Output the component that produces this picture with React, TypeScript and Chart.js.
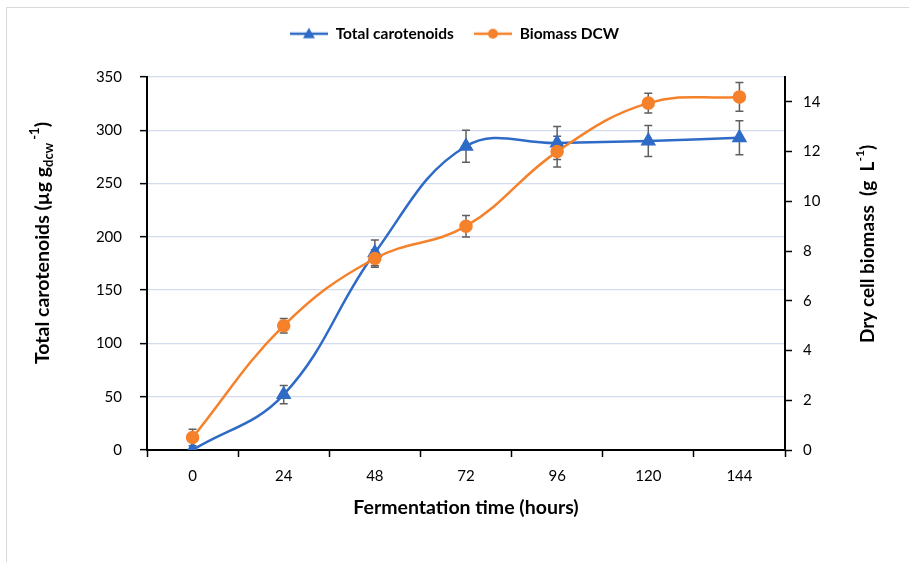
import React, { useEffect, useRef } from "react";
import { Chart, registerables } from "chart.js";

Chart.register(...registerables);

const categories = ["0", "24", "48", "72", "96", "120", "144"];
const carotenoids = [0, 52, 185, 285, 288, 290, 293];
const carotenoidErr = [0, 8.5, 12, 15, 15.5, 14.5, 16];
const biomass = [0.5, 5.0, 7.7, 9.0, 12.0, 13.95, 14.2];
const biomassErr = [0.33, 0.29, 0.35, 0.43, 0.62, 0.4, 0.58];

const leftMin = 0;
const leftMax = 350;
const leftStep = 50;
const rightMin = 0;
const rightMax = 15;
const rightStep = 2;
const rightLastLabel = 14;

const BLUE = "#2e6bc6";
const ORANGE = "#f5812b";
const FONT = "Lato";

type Seg = { t: string; k?: "sub" | "sup" };

function drawRich(ctx: CanvasRenderingContext2D, segs: Seg[], cx: number, cy: number, rot: number, size: number) {
  ctx.save();
  ctx.translate(cx, cy);
  ctx.rotate(rot);
  const small = Math.round(size * 0.65);
  const fontFor = (s: Seg) => `bold ${s.k ? small : size}px ${FONT}`;
  let total = 0;
  for (const s of segs) {
    ctx.font = fontFor(s);
    total += ctx.measureText(s.t).width;
  }
  let x = -total / 2;
  ctx.fillStyle = "#000";
  ctx.textBaseline = "middle";
  ctx.textAlign = "left";
  for (const s of segs) {
    ctx.font = fontFor(s);
    const dy = s.k === "sub" ? size * 0.3 : s.k === "sup" ? -size * 0.42 : 0;
    ctx.fillText(s.t, x, dy);
    x += ctx.measureText(s.t).width;
  }
  ctx.restore();
}

const errorBars = {
  id: "errorBars",
  beforeDatasetsDraw(chart: any) {
    const ctx = chart.ctx;
    const xs = chart.scales.x;
    chart.data.datasets.forEach((ds: any) => {
      const ys = chart.scales[ds.yAxisID];
      const errs: number[] = ds.errors || [];
      ctx.save();
      ctx.strokeStyle = "#5f5f5f";
      ctx.lineWidth = 1.5;
      ds.data.forEach((v: number, i: number) => {
        const e = errs[i];
        if (!e) return;
        const x = xs.getPixelForValue(i);
        const y1 = ys.getPixelForValue(v + e);
        const y2 = ys.getPixelForValue(v - e);
        ctx.beginPath();
        ctx.moveTo(x, y1);
        ctx.lineTo(x, y2);
        ctx.moveTo(x - 4, y1);
        ctx.lineTo(x + 4, y1);
        ctx.moveTo(x - 4, y2);
        ctx.lineTo(x + 4, y2);
        ctx.stroke();
      });
      ctx.restore();
    });
  },
};

const TOP_PAD = 6;
const PLOT_TOP = 77;

const decor = {
  id: "decor",
  beforeLayout(chart: any) {
    const lg = chart.legend;
    if (lg && !lg.__patched) {
      const orig = lg.fit.bind(lg);
      lg.fit = function () {
        orig();
        this.height = PLOT_TOP - TOP_PAD;
      };
      lg.__patched = true;
    }
  },
  beforeDraw(chart: any) {
    const ctx = chart.ctx;
    ctx.save();
    ctx.fillStyle = "#fff";
    ctx.fillRect(0, 0, chart.width, chart.height);
    ctx.strokeStyle = "#d9d9d9";
    ctx.lineWidth = 1;
    ctx.beginPath();
    ctx.moveTo(6.5, chart.height);
    ctx.lineTo(6.5, 7.5);
    ctx.lineTo(chart.width, 7.5);
    ctx.stroke();
    ctx.restore();
  },
  afterDraw(chart: any) {
    const ctx = chart.ctx;
    const a = chart.chartArea;
    drawRich(
      ctx,
      [{ t: "Total carotenoids (µg g" }, { t: "dcw", k: "sub" }, { t: " -1", k: "sup" }, { t: ")" }],
      43,
      243,
      -Math.PI / 2,
      19.5
    );
    drawRich(
      ctx,
      [{ t: "Dry cell biomass  (g  L" }, { t: "-1", k: "sup" }, { t: ")" }],
      868,
      244,
      -Math.PI / 2,
      19
    );
    drawRich(ctx, [{ t: "Fermentation time (hours)" }], (a.left + a.right) / 2, 508, 0, 19.5);
  },
};

function legendImage(color: string, style: "triangle" | "circle") {
  const c = document.createElement("canvas");
  c.width = 38;
  c.height = 14;
  const g = c.getContext("2d")!;
  g.strokeStyle = color;
  g.lineWidth = 2.5;
  g.beginPath();
  g.moveTo(0, 7);
  g.lineTo(38, 7);
  g.stroke();
  g.fillStyle = color;
  g.beginPath();
  if (style === "circle") {
    g.arc(19, 7, 5, 0, Math.PI * 2);
  } else {
    g.moveTo(19, 1);
    g.lineTo(25, 11.5);
    g.lineTo(13, 11.5);
    g.closePath();
  }
  g.fill();
  return c;
}

export default function App() {
  const ref = useRef<HTMLCanvasElement>(null);
  useEffect(() => {
    document.body.style.margin = "0";
    const imgs = [legendImage(BLUE, "triangle"), legendImage(ORANGE, "circle")];
    const chart = new Chart(ref.current!, {
      type: "line",
      data: {
        labels: categories,
        datasets: [
          {
            label: "Total carotenoids",
            data: carotenoids,
            errors: carotenoidErr,
            yAxisID: "y",
            borderColor: BLUE,
            backgroundColor: BLUE,
            borderWidth: 2.5,
            pointStyle: "triangle",
            pointRadius: 6.5,
            pointHoverRadius: 6.5,
            tension: 0.4,
            order: 1,
          } as any,
          {
            label: "Biomass DCW",
            data: biomass,
            errors: biomassErr,
            yAxisID: "y1",
            borderColor: ORANGE,
            backgroundColor: ORANGE,
            borderWidth: 2.5,
            pointStyle: "circle",
            pointRadius: 5.5,
            pointHoverRadius: 5.5,
            tension: 0.4,
            order: 0,
          } as any,
        ],
      },
      options: {
        responsive: false,
        animation: false,
        devicePixelRatio: 1,
        layout: { padding: { top: TOP_PAD, left: 0, right: 0, bottom: 0 } },
        plugins: {
          tooltip: { enabled: false },
          legend: {
            position: "top",
            labels: {
              usePointStyle: true,
              pointStyleWidth: 38,
              boxHeight: 14,
              padding: 20,
              color: "#000",
              font: { family: FONT, size: 15.5, weight: "bold" },
              generateLabels: () => [
                { text: "Total carotenoids", pointStyle: imgs[0], fillStyle: BLUE, strokeStyle: BLUE, lineWidth: 0, hidden: false, datasetIndex: 0, fontColor: "#000" },
                { text: "Biomass DCW", pointStyle: imgs[1], fillStyle: ORANGE, strokeStyle: ORANGE, lineWidth: 0, hidden: false, datasetIndex: 1, fontColor: "#000" },
              ] as any,
            },
          },
        },
        scales: {
          x: {
            type: "category",
            offset: true,
            grid: { display: true, drawOnChartArea: false, offset: true, tickLength: 7, color: "#000", tickWidth: 1.5 },
            border: { display: true, color: "#000", width: 2 },
            ticks: { color: "#000", padding: 10, font: { family: FONT, size: 15 }, maxRotation: 0 },
            afterFit: (s: any) => { s.height = 112; },
          },
          y: {
            position: "left",
            min: leftMin,
            max: leftMax,
            ticks: { stepSize: leftStep, color: "#000", padding: 18, font: { family: FONT, size: 15 } },
            grid: { color: "#d3dcee", lineWidth: 1.3, tickColor: "#000", tickLength: 7, tickWidth: 1.5 },
            border: { display: true, color: "#000", width: 2 },
            afterFit: (s: any) => { s.width = 147; },
          },
          y1: {
            position: "right",
            min: rightMin,
            max: rightMax,
            ticks: { stepSize: rightStep, color: "#000", padding: 11, font: { family: FONT, size: 15 } },
            grid: { drawOnChartArea: false, tickColor: "#000", tickLength: 7, tickWidth: 1.5 },
            border: { display: true, color: "#000", width: 2 },
            afterBuildTicks: (s: any) => { s.ticks = s.ticks.filter((t: any) => t.value <= rightLastLabel); },
            afterFit: (s: any) => { s.width = 124; },
          },
        },
      } as any,
      plugins: [decor, errorBars],
    });
    return () => chart.destroy();
  }, []);
  return (
    <div style={{ position: "absolute", left: 0, top: 0, width: 909, height: 562 }}>
      <canvas ref={ref} width={909} height={562} />
    </div>
  );
}
